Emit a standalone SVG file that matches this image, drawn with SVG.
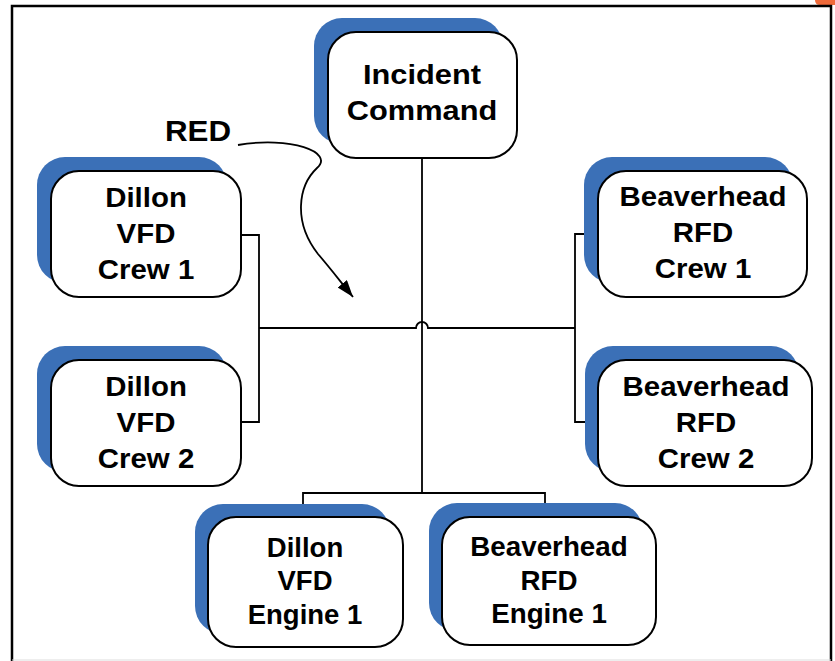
<svg xmlns="http://www.w3.org/2000/svg" width="835" height="661" viewBox="0 0 835 661">
  <style>
    .shadow { fill: #3b70b7; }
    .box { fill: #ffffff; stroke: #000000; stroke-width: 2; }
    .lbl { font-family: "Liberation Sans", Arial, sans-serif; font-weight: bold; font-size: 27.5px; fill: #000000; text-anchor: middle; }
    .conn { fill: none; stroke: #000000; stroke-width: 1.8; }
    .frame { fill: #ffffff; stroke: #000000; stroke-width: 2.5; }
  </style>
  <defs>
    <marker id="arrow" markerUnits="userSpaceOnUse" markerWidth="18" markerHeight="13" refX="17" refY="6" orient="auto">
      <path d="M0,0 L17,6 L0,12 z" fill="#000000"/>
    </marker>
  </defs>

  <rect x="0" y="0" width="835" height="661" fill="#ffffff"/>
  <path d="M815,0 L835,0 L835,5 L820,5 Q815,5 815,0 z" fill="#ef6a3a"/>
  <rect class="frame" x="12" y="6" width="819" height="662"/>
  <line x1="12" y1="660" x2="831" y2="660" stroke="#dddddd" stroke-width="1"/>

  <g id="connectors">
    <line class="conn" x1="422" y1="158" x2="422" y2="493"/>
    <path class="conn" d="M259,328 L416,328 A6,6 0 0 1 428,328 L575,328"/>
    <path class="conn" d="M241,235 L259,235 L259,422 L241,422"/>
    <path class="conn" d="M598,234 L575,234 L575,422 L598,422"/>
    <path class="conn" d="M303,517 L303,493 L545,493 L545,517"/>
    <path class="conn" d="M238,145 C290,136 335,152 317,168 C298,186 293,222 318,254 C330,268 340,281 353,297" marker-end="url(#arrow)"/>
  </g>

  <g id="red-label">
    <g transform="translate(198 0) scale(1.08 1)">
      <text class="lbl" x="0" y="141" style="font-size:29px">RED</text>
    </g>
  </g>

  <g id="incident-command">
    <rect class="shadow" x="314" y="18" width="189" height="126" rx="28"/>
    <rect class="box" x="328" y="32" width="189" height="126" rx="28"/>
    <g transform="translate(422 0) scale(1.12 1)">
      <text class="lbl" x="0" y="84">Incident</text>
      <text class="lbl" x="0" y="120">Command</text>
    </g>
  </g>

  <g id="dillon-crew-1">
    <rect class="shadow" x="37" y="157" width="190" height="126" rx="28"/>
    <rect class="box" x="51" y="171" width="190" height="126" rx="28"/>
    <g transform="translate(146 0) scale(1.07 1)">
      <text class="lbl" x="0" y="207">Dillon</text>
      <text class="lbl" x="0" y="243">VFD</text>
      <text class="lbl" x="0" y="279">Crew 1</text>
    </g>
  </g>

  <g id="dillon-crew-2">
    <rect class="shadow" x="37" y="346" width="190" height="126" rx="28"/>
    <rect class="box" x="51" y="360" width="190" height="126" rx="28"/>
    <g transform="translate(146 0) scale(1.07 1)">
      <text class="lbl" x="0" y="396">Dillon</text>
      <text class="lbl" x="0" y="432">VFD</text>
      <text class="lbl" x="0" y="468">Crew 2</text>
    </g>
  </g>

  <g id="beaverhead-crew-1">
    <rect class="shadow" x="584" y="157" width="209" height="126" rx="28"/>
    <rect class="box" x="598" y="171" width="209" height="126" rx="28"/>
    <g transform="translate(703 0) scale(1.07 1)">
      <text class="lbl" x="0" y="206">Beaverhead</text>
      <text class="lbl" x="0" y="242">RFD</text>
      <text class="lbl" x="0" y="278">Crew 1</text>
    </g>
  </g>

  <g id="beaverhead-crew-2">
    <rect class="shadow" x="585" y="346" width="214" height="126" rx="28"/>
    <rect class="box" x="598" y="360" width="214" height="126" rx="28"/>
    <g transform="translate(706 0) scale(1.07 1)">
      <text class="lbl" x="0" y="396">Beaverhead</text>
      <text class="lbl" x="0" y="432">RFD</text>
      <text class="lbl" x="0" y="468">Crew 2</text>
    </g>
  </g>

  <g id="dillon-engine-1">
    <rect class="shadow" x="195" y="504" width="195" height="130" rx="28"/>
    <rect class="box" x="208" y="517" width="195" height="130" rx="28"/>
    <g transform="translate(305 0) scale(1.0 1)">
      <text class="lbl" x="0" y="557">Dillon</text>
      <text class="lbl" x="0" y="590">VFD</text>
      <text class="lbl" x="0" y="624">Engine 1</text>
    </g>
  </g>

  <g id="beaverhead-engine-1">
    <rect class="shadow" x="429" y="503" width="214" height="128" rx="28"/>
    <rect class="box" x="442" y="517" width="214" height="128" rx="28"/>
    <g transform="translate(549 0) scale(1.01 1)">
      <text class="lbl" x="0" y="556">Beaverhead</text>
      <text class="lbl" x="0" y="590">RFD</text>
      <text class="lbl" x="0" y="623">Engine 1</text>
    </g>
  </g>
</svg>
